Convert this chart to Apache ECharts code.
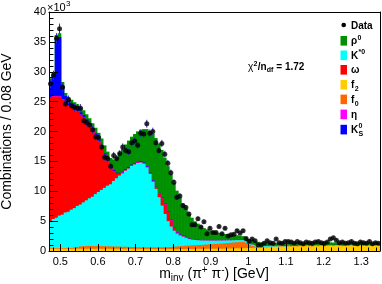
<!DOCTYPE html>
<html><head><meta charset="utf-8">
<script src="https://cdn.jsdelivr.net/npm/echarts@6/dist/echarts.min.js"></script>
<style>html,body{margin:0;padding:0;background:#fff}#c{width:382px;height:284px}</style>
</head><body><div id="c"></div>
<script>
// ---- binning of the histogram (GeV) ----
const BIN_LOW = 0.47;
const BIN_WIDTH = 0.008;
const X_MIN = 0.47, X_MAX = 1.35, Y_MIN = 0, Y_MAX = 40;
// ---- tick labels ----
const xTickValues = [0.5, 0.6, 0.7, 0.8, 0.9, 1.0, 1.1, 1.2, 1.3];
const yTickValues = [0, 5, 10, 15, 20, 25, 30, 35, 40];

// ---- values in units of 10^3 combinations per bin ----
const data = [
 28.0,29.4,35.6,37.2,27.4,24.6,25.3,24.3,24.0,23.9,
 23.9,21.8,21.5,21.1,20.3,19.1,19.0,17.4,15.7,15.5,
 14.2,16.0,15.5,16.3,17.4,16.8,16.6,18.1,18.4,17.7,
 19.7,19.6,21.3,19.7,20.0,18.1,16.8,18.0,16.2,14.7,
 13.1,11.5,9.0,9.2,7.6,7.3,6.2,4.4,4.4,5.4,
 4.0,4.9,2.9,3.8,3.1,3.1,4.1,2.9,3.8,2.5,
 2.7,2.8,3.4,3.0,3.4,2.1,1.6,2.0,1.7,1.0,
 1.0,1.3,1.7,1.4,1.3,2.0,1.4,1.3,1.6,1.6,
 1.5,1.3,1.6,1.4,1.2,1.5,1.4,1.3,1.5,1.6,
 1.4,1.3,1.5,2.0,2.2,1.8,1.4,1.5,1.3,1.4,
 1.6,1.3,1.2,1.5,1.4,1.3,1.6,1.2,1.4,1.3];
const dataErr = [
 0.75,0.77,0.85,0.87,0.74,0.70,0.71,0.70,0.69,0.69,
 0.69,0.66,0.66,0.65,0.64,0.62,0.62,0.60,0.57,0.57,
 0.55,0.58,0.57,0.58,0.60,0.59,0.58,0.61,0.62,0.61,
 0.64,0.64,0.66,0.64,0.64,0.61,0.59,0.61,0.58,0.55,
 0.52,0.49,0.44,0.44,0.40,0.39,0.36,0.31,0.31,0.34,
 0.31,0.34,0.26,0.30,0.27,0.27,0.31,0.26,0.30,0.24,
 0.25,0.26,0.28,0.27,0.28,0.22,0.19,0.21,0.20,0.15,
 0.15,0.17,0.20,0.18,0.17,0.21,0.18,0.17,0.19,0.19,
 0.18,0.17,0.19,0.18,0.16,0.18,0.18,0.17,0.18,0.19,
 0.18,0.17,0.18,0.21,0.22,0.20,0.18,0.18,0.17,0.18,
 0.19,0.17,0.16,0.18,0.18,0.17,0.19,0.16,0.18,0.17];
const f2 = [
 0.38,0.36,0.38,0.37,0.39,0.37,0.38,0.36,0.38,0.37,
 0.38,0.37,0.36,0.38,0.37,0.36,0.38,0.37,0.36,0.37,
 0.36,0.35,0.37,0.36,0.35,0.36,0.35,0.34,0.36,0.35,
 0.34,0.35,0.34,0.35,0.34,0.33,0.35,0.34,0.33,0.34,
 0.33,0.34,0.33,0.34,0.33,0.34,0.35,0.34,0.35,0.36,
 0.35,0.36,0.37,0.36,0.38,0.37,0.39,0.38,0.40,0.41,
 0.42,0.43,0.45,0.44,0.47,0.48,0.50,0.52,0.55,0.57,
 0.60,0.62,0.61,0.65,0.66,0.68,0.70,0.72,0.68,0.75,
 0.73,0.78,0.74,0.80,0.76,0.82,0.78,0.75,0.83,0.80,
 0.86,0.79,0.84,0.88,0.82,0.90,0.85,0.80,0.88,0.84,
 0.91,0.86,0.82,0.89,0.85,0.92,0.87,0.84,0.90,0.88];
const f0 = [
 0.10,0.10,0.10,0.11,0.11,0.12,0.13,0.15,0.20,0.30,
 0.40,0.44,0.46,0.47,0.46,0.45,0.45,0.44,0.43,0.42,
 0.41,0.40,0.38,0.37,0.36,0.35,0.33,0.32,0.30,0.29,
 0.28,0.27,0.27,0.26,0.26,0.26,0.27,0.28,0.30,0.32,
 0.35,0.38,0.42,0.46,0.50,0.53,0.56,0.59,0.62,0.64,
 0.66,0.69,0.72,0.75,0.78,0.81,0.84,0.87,0.90,0.93,
 0.96,0.99,1.02,1.05,1.04,0.86,0.56,0.32,0.19,0.13,
 0.10,0.09,0.08,0.07,0.07,0.06,0.06,0.06,0.05,0.05,
 0.05,0.05,0.05,0.05,0.05,0.05,0.05,0.05,0.05,0.05,
 0.05,0.05,0.05,0.05,0.05,0.05,0.05,0.05,0.05,0.05,
 0.05,0.05,0.05,0.05,0.05,0.05,0.05,0.05,0.05,0.05];
const kstar = [
 4.52,4.90,5.08,5.45,5.58,5.96,6.05,6.41,6.60,6.88,
 7.00,7.33,7.66,7.98,8.25,8.72,9.05,9.42,9.79,10.14,
 10.40,10.98,11.43,11.90,12.27,12.72,13.10,13.57,13.82,14.08,
 14.18,13.98,13.39,12.29,11.00,9.81,8.38,6.98,5.57,4.34,
 3.42,2.68,2.15,1.80,1.57,1.33,1.09,0.97,0.88,0.80,
 0.75,0.70,0.66,0.62,0.58,0.55,0.52,0.49,0.46,0.43,
 0.40,0.38,0.35,0.33,0.31,0.29,0.27,0.25,0.23,0.21,
 0.19,0.18,0.16,0.15,0.14,0.13,0.12,0.11,0.10,0.10,
 0.09,0.09,0.08,0.08,0.08,0.07,0.07,0.07,0.06,0.06,
 0.06,0.06,0.05,0.05,0.05,0.05,0.05,0.04,0.04,0.04,
 0.04,0.04,0.04,0.03,0.03,0.03,0.03,0.03,0.03,0.03];
const omega = [
 20.6,20.5,20.3,19.9,19.3,18.2,17.7,17.1,16.5,15.8,
 15.0,14.2,13.2,12.2,11.1,9.8,8.4,7.0,5.5,4.1,
 2.7,1.6,0.7,0.25,0.10,0.05,0.05,0.05,0.05,0.05,
 0.05,0.05,0.05,0.05,0.10,0.20,0.60,1.20,1.60,1.50,
 1.00,0.40,0.15,0.06,0.04,0.03,0.03,0.02,0.02,0.02,
 0,0,0,0,0,0,0,0,0,0,
 0,0,0,0,0,0,0,0,0,0,
 0,0,0,0,0,0,0,0,0,0,
 0,0,0,0,0,0,0,0,0,0,
 0,0,0,0,0,0,0,0,0,0,
 0,0,0,0,0,0,0,0,0,0];
const eta = [
 0.08,0.08,0.08,0.08,0.08,0.08,0.08,0.08,0.08,0.08,
 0.08,0.08,0.08,0.08,0.08,0.08,0.08,0.08,0.08,0.08,
 0.08,0.08,0.08,0.08,0.08,0.08,0.08,0.08,0.08,0.08,
 0.08,0.08,0.08,0.08,0.08,0.08,0.08,0.08,0.08,0.08,
 0.08,0.08,0.08,0.08,0.08,0.08,0.02,0.02,0.02,0.02,
 0.02,0.02,0.02,0.02,0.02,0.02,0.02,0.02,0.02,0.02,
 0.02,0.02,0.02,0.02,0.02,0.02,0.02,0.02,0.02,0.02,
 0.02,0.02,0.02,0.02,0.02,0.02,0.02,0.02,0.02,0.02,
 0.02,0.02,0.02,0.02,0.02,0.02,0.02,0.02,0.02,0.02,
 0.02,0.02,0.02,0.02,0.02,0.02,0.02,0.02,0.02,0.02,
 0.02,0.02,0.02,0.02,0.02,0.02,0.02,0.02,0.02,0.02];
const ks = [
 2.70,3.40,9.70,9.90,2.20,1.20,0.85,0.65,0.50,0.42,
 0.36,0.32,0.30,0.28,0.26,0.25,0.24,0.22,0.20,0.19,
 0.17,0.15,0.14,0.12,0.11,0.10,0.10,0.09,0.09,0.08,
 0.08,0.08,0.08,0.07,0.07,0.07,0.06,0.06,0.06,0.06,
 0.05,0.05,0.05,0.05,0.05,0.05,0.04,0.04,0.04,0.04,
 0.02,0.02,0.02,0.02,0.02,0.02,0.02,0.02,0.02,0.02,
 0.02,0.02,0.02,0.02,0.02,0.02,0.02,0.02,0.02,0.02,
 0.02,0.02,0.02,0.02,0.02,0.02,0.02,0.02,0.02,0.02,
 0.02,0.02,0.02,0.02,0.02,0.02,0.02,0.02,0.02,0.02,
 0.02,0.02,0.02,0.02,0.02,0.02,0.02,0.02,0.02,0.02,
 0.02,0.02,0.02,0.02,0.02,0.02,0.02,0.02,0.02,0.02];
const rho = [
 0.52,0.52,0.52,0.62,0.62,0.52,0.57,0.57,0.62,0.70,
 0.76,0.80,0.82,0.84,0.86,0.97,1.18,1.30,1.32,1.33,
 1.45,1.77,2.58,3.35,3.81,4.17,4.47,4.68,4.88,5.09,
 5.29,5.59,6.19,7.00,7.75,8.15,8.26,7.96,7.66,7.56,
 7.57,7.47,6.92,6.11,5.33,4.64,4.08,3.59,3.04,2.69,
 2.37,2.05,1.85,1.67,1.51,1.37,1.25,1.16,1.04,0.98,
 0.92,0.85,0.78,0.73,0.63,0.62,0.67,0.71,0.63,0.59,
 0.51,0.49,0.51,0.48,0.47,0.46,0.50,0.49,0.52,0.47,
 0.49,0.46,0.49,0.45,0.48,0.44,0.47,0.49,0.43,0.46,
 0.41,0.47,0.44,0.42,0.46,0.40,0.44,0.47,0.41,0.44,
 0.39,0.43,0.46,0.40,0.43,0.39,0.42,0.44,0.39,0.41];

const FONT = "'Liberation Sans', Arial, Helvetica, sans-serif";
const N = data.length;
const edge = i => BIN_LOW + BIN_WIDTH * i;
const center = i => BIN_LOW + BIN_WIDTH * (i + 0.5);

// stack order, bottom to top
const components = [
  {name: 'f2',  vals: f2,    color: '#ffcc00'},
  {name: 'f0',  vals: f0,    color: '#ff6600'},
  {name: 'K*0', vals: kstar, color: '#00ffff'},
  {name: 'ω',   vals: omega, color: '#ff0000'},
  {name: 'η',   vals: eta,   color: '#ff00ff'},
  {name: 'KS0', vals: ks,    color: '#0000ff'},
  {name: 'ρ0',  vals: rho,   color: '#009000'}
];
let running = new Array(N).fill(0);
const cumTops = components.map(c => { running = running.map((s, i) => s + c.vals[i]); return running.slice(); });

// like a THStack: each cumulative histogram filled from zero, highest first
const histSeries = components.map((c, k) => ({
  type: 'custom', name: c.name, xAxisIndex: 0, yAxisIndex: 0, clip: true, silent: true, z: 1,
  encode: {x: [0, 1], y: 2},
  data: cumTops[k].map((t, i) => [edge(i), edge(i + 1), t]),
  renderItem: (params, api) => {
    const a = api.coord([api.value(0), api.value(2)]);
    const b = api.coord([api.value(1), 0]);
    return {type: 'rect', shape: {x: a[0] - 0.3, y: a[1], width: b[0] - a[0] + 0.6, height: b[1] - a[1]},
            style: {fill: c.color}};
  }
})).reverse();

const errSeries = {
  type: 'custom', name: 'Data errors', z: 5, silent: true, encode: {x: 0, y: [1, 2]},
  data: data.map((v, i) => [center(i), v - dataErr[i], v + dataErr[i]]),
  renderItem: (params, api) => {
    const a = api.coord([api.value(0), api.value(1)]);
    const b = api.coord([api.value(0), api.value(2)]);
    return {type: 'line', shape: {x1: a[0], y1: a[1], x2: b[0], y2: b[1]}, style: {stroke: '#2d2dc4', lineWidth: 1}};
  }
};
const dataSeries = {
  type: 'scatter', name: 'Data', z: 6, silent: true, symbol: 'circle', symbolSize: 5,
  itemStyle: {color: '#000'}, data: data.map((v, i) => [center(i), v])
};

// minor tick positions (every 0.02 GeV)
const xMinor = [];
for (let k = 24; k <= 67; k++) if (k % 5 !== 0) xMinor.push(+(k * 0.02).toFixed(2));

// ---- text helpers ----
const mctx = document.createElement('canvas').getContext('2d');
function tw(str, size, weight) { mctx.font = (weight || 'normal') + ' ' + size + 'px ' + FONT; return mctx.measureText(str).width; }
function txt(x, y, str, size, weight, extra) {
  return Object.assign({type: 'text', x: x, y: y, z: 20, silent: true,
    style: {text: str, fill: '#000', fontSize: size, fontFamily: FONT, fontWeight: weight || 'normal',
            align: 'left', verticalAlign: 'middle'}}, extra || {});
}

const legendItems = [
  {main: 'Data', type: 'dot'},
  {main: 'ρ', sup: '0', color: '#009000'},
  {main: 'K', sup: '*0', color: '#00ffff'},
  {main: 'ω', color: '#ff0000'},
  {main: 'f', sub: '2', color: '#ffcc00'},
  {main: 'f', sub: '0', color: '#ff6600'},
  {main: 'η', color: '#ff00ff'},
  {main: 'K', sup: '0', sub: 'S', color: '#0000ff'}
];
const legendY = [25, 40.8, 55.3, 69.8, 84.8, 99.4, 114.4, 129.6];
const graphics = [];
legendItems.forEach((it, k) => {
  const yc = legendY[k];
  if (it.type === 'dot') {
    graphics.push({type: 'circle', z: 20, shape: {cx: 343.7, cy: yc, r: 2.3}, style: {fill: '#000'}});
  } else {
    graphics.push({type: 'rect', z: 20, shape: {x: 340.5, y: yc - 4.8, width: 6.5, height: 9.6}, style: {fill: it.color}});
  }
  const tx = 351;
  graphics.push(txt(tx, yc + 0.8, it.main, 10, 'bold'));
  const w = tw(it.main, 10, 'bold');
  if (it.sup) graphics.push(txt(tx + w + 0.3, yc - 3.2, it.sup, 7, 'bold'));
  if (it.sub) graphics.push(txt(tx + w + 0.3, yc + 4.2, it.sub, 7, 'bold'));
});

// chi2 label
(function () {
  let x = 248, y = 67;
  graphics.push(txt(x, y, 'χ', 10, 'normal')); x += tw('χ', 10, 'normal');
  graphics.push(txt(x + 0.3, y - 3.2, '2', 7, 'bold')); x += tw('2', 7, 'bold') + 0.5;
  graphics.push(txt(x, y, '/n', 10, 'bold')); x += tw('/n', 10, 'bold');
  graphics.push(txt(x + 0.2, y + 3.2, 'df', 7, 'bold')); x += tw('df', 7, 'bold') + 0.4;
  graphics.push(txt(x, y, ' = 1.72', 10, 'bold'));
})();

// x10^3 exponent label
graphics.push(txt(47, 7.6, '×10', 11, 'normal'));
graphics.push(txt(47 + tw('×10', 11, 'normal') + 0.3, 4.2, '3', 8, 'normal'));

// axis titles
graphics.push({type: 'text', x: 7, y: 131.5, rotation: Math.PI / 2, z: 20, silent: true,
  style: {text: 'Combinations / 0.08 GeV', fill: '#000', fontSize: 14, fontFamily: FONT, align: 'center', verticalAlign: 'middle'}});
graphics.push({type: 'text', x: 214, y: 274.5, z: 20, silent: true,
  style: {text: '{a|m}{sub|inv}{a| (π}{sup|+}{a| π}{sup|-}{a|) [GeV]}', fill: '#000', fontFamily: FONT,
    align: 'center', verticalAlign: 'middle',
    rich: {
      a: {fontSize: 14, fontFamily: FONT, lineHeight: 18, verticalAlign: 'middle', fill: '#000'},
      sub: {fontSize: 10, fontFamily: FONT, lineHeight: 10, verticalAlign: 'bottom', fill: '#000'},
      sup: {fontSize: 10, fontFamily: FONT, lineHeight: 10, verticalAlign: 'top', fill: '#000'}
    }}});

const axisLineStyle = {color: '#000', width: 1};
const option = {
  animation: false,
  backgroundColor: '#fff',
  grid: {left: 49, right: 2, top: 12, bottom: 33, containLabel: false, outerBoundsMode: 'none', show: false},
  xAxis: [
    {type: 'value', gridIndex: 0, position: 'bottom', min: X_MIN, max: X_MAX, z: 3,
     axisLine: {show: true, onZero: false, lineStyle: axisLineStyle},
     axisTick: {show: true, inside: true, length: 7, customValues: xTickValues, lineStyle: axisLineStyle},
     axisLabel: {show: true, customValues: xTickValues, fontSize: 11, fontFamily: FONT, color: '#000', margin: 5},
     minorTick: {show: false}, splitLine: {show: false}},
    {type: 'value', gridIndex: 0, position: 'bottom', min: X_MIN, max: X_MAX, z: 3,
     axisLine: {show: false},
     axisTick: {show: true, inside: true, length: 3.5, customValues: xMinor, lineStyle: axisLineStyle},
     axisLabel: {show: false}, splitLine: {show: false}},
    {type: 'value', gridIndex: 0, position: 'top', min: X_MIN, max: X_MAX, z: 3,
     axisLine: {show: true, onZero: false, lineStyle: axisLineStyle},
     axisTick: {show: false}, axisLabel: {show: false}, splitLine: {show: false}}
  ],
  yAxis: [
    {type: 'value', gridIndex: 0, position: 'left', min: Y_MIN, max: Y_MAX, interval: 5, z: 3,
     axisLine: {show: true, onZero: false, lineStyle: axisLineStyle},
     axisTick: {show: true, inside: true, length: 9, customValues: yTickValues, lineStyle: axisLineStyle},
     minorTick: {show: true, splitNumber: 5, length: 4.5, lineStyle: axisLineStyle},
     axisLabel: {show: true, customValues: yTickValues, fontSize: 11, fontFamily: FONT, color: '#000', margin: 3},
     splitLine: {show: false}, minorSplitLine: {show: false}},
    {type: 'value', gridIndex: 0, position: 'right', min: Y_MIN, max: Y_MAX, z: 3,
     axisLine: {show: true, onZero: false, lineStyle: axisLineStyle},
     axisTick: {show: false}, axisLabel: {show: false}, splitLine: {show: false}}
  ],
  series: histSeries.concat([errSeries, dataSeries]),
  graphic: {elements: graphics}
};
const chart = echarts.init(document.getElementById('c'), null, {renderer: 'canvas'});
chart.setOption(option);
</script>
</body></html>
